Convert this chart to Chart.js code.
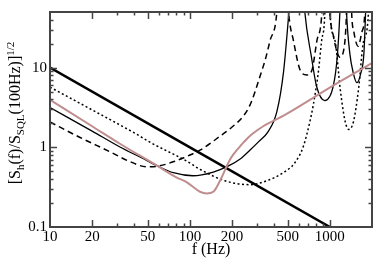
<!DOCTYPE html>
<html>
<head>
<meta charset="utf-8">
<script src="https://cdn.jsdelivr.net/npm/chart.js@4.4.1/dist/chart.umd.min.js"></script>
<style>
  html, body { margin: 0; padding: 0; background: #fff; }
  #wrap { width: 374px; height: 259px; }
</style>
</head>
<body>
<div id="wrap"><canvas id="chart"></canvas></div>
<script>
// Frequencies (Hz) and noise ratios.
// Values of 1000 mark resonance peaks far above the plot top.
const thickF = [10, 1000];
const thickS = [10, 0.1];

const thinF = [10, 20, 31.6, 45, 59, 76, 105, 147, 187, 230, 268, 310, 360, 418, 467, 510, 590, 662, 739, 803, 921, 1057, 1128, 1179, 1245, 1315, 1389, 1472, 1560, 1663, 1750, 1800, 1900];
const thinS = [3.16, 1.6, 1.01, 0.74, 0.58, 0.48, 0.44, 0.49, 0.58, 0.72, 0.92, 1.18, 1.55, 2.8, 9, 50, 1000, 50, 13.5, 5.85, 3.86, 5.85, 13.5, 50, 1000, 50, 15, 8.5, 6.5, 8.5, 15, 50, 1000];

const dashedF = [10, 16.4, 26.8, 36, 49, 59, 80, 100, 118, 164, 200, 240, 268, 292, 316, 345, 373, 418, 460, 507, 550, 614, 685, 744, 807, 877, 935, 1000, 1059, 1124, 1179, 1250, 1290, 1315, 1370, 1430, 1485, 1592, 1693, 1778, 1850];
const dashedS = [2.08, 1.33, 0.88, 0.68, 0.57, 0.58, 0.68, 0.8, 0.92, 1.38, 1.8, 2.45, 3.36, 5, 7.7, 12.5, 21.6, 50, 1000, 50, 21.6, 9.3, 8.1, 9.3, 21.6, 50, 1000, 50, 25, 16, 13.5, 16, 25, 50, 1000, 50, 28, 18.6, 28, 50, 1000];

const dottedF = [10, 20, 41.6, 51.8, 95, 118, 178, 268, 353, 464, 562, 644, 720, 760, 825, 872, 921, 960, 1000, 1091, 1186, 1286, 1361, 1476, 1602, 1740, 1888, 1950];
const dottedS = [5.7, 2.95, 1.46, 1.16, 0.67, 0.53, 0.38, 0.34, 0.38, 0.48, 0.64, 1.01, 2.11, 3.36, 8.5, 21.4, 50, 1000, 50, 21.4, 5.35, 2.11, 1.68, 2.11, 5.35, 21.4, 50, 1000];

const pinkF = [10, 20, 31.6, 59, 80, 94.6, 118, 132, 147, 164, 193, 205, 216, 228, 240, 260, 283, 334, 477, 1069, 2000];
const pinkS = [3.94, 1.84, 1.11, 0.58, 0.42, 0.366, 0.277, 0.264, 0.277, 0.38, 0.70, 0.82, 0.92, 1.03, 1.14, 1.32, 1.5, 1.84, 2.55, 6.03, 11.4];

// Tick values
const xLabelTicks = [10, 20, 50, 100, 200, 500, 1000];
const xMinorTicks = [30, 40, 60, 70, 80, 90, 300, 400, 600, 700, 800, 900, 2000];
const yLabelTicks = [0.1, 1, 10];
const yMinorTicks = [0.2, 0.3, 0.4, 0.5, 0.6, 0.7, 0.8, 0.9, 2, 3, 4, 5, 6, 7, 8, 9, 20, 30, 40, 50];

const serif = "'Liberation Serif', 'DejaVu Serif', serif";
Chart.defaults.font.family = serif;
Chart.defaults.color = "#000";

function toPoints(f, s) {
  return f.map((v, i) => ({ x: v, y: s[i] }));
}

// Inward tick marks on all four sides plus the frame
const frameTicks = {
  id: "frameTicks",
  afterDraw(chart) {
    const ctx = chart.ctx;
    const a = chart.chartArea;
    const xs = chart.scales.x;
    const ys = chart.scales.y;
    ctx.save();
    ctx.strokeStyle = "#444";
    ctx.lineWidth = 1.5;
    const tick = (x1, y1, x2, y2) => {
      ctx.beginPath();
      ctx.moveTo(x1, y1);
      ctx.lineTo(x2, y2);
      ctx.stroke();
    };
    const xTicks = xLabelTicks.map((v) => [v, 7]).concat(xMinorTicks.map((v) => [v, 3.5]));
    xTicks.forEach(([v, len]) => {
      const px = Math.round(xs.getPixelForValue(v)) + 0.5;
      if (px < a.left + 1 || px > a.right - 1) return;
      tick(px, a.bottom, px, a.bottom - len);
      tick(px, a.top, px, a.top + len);
    });
    const yTicks = yLabelTicks.map((v) => [v, 7]).concat(yMinorTicks.map((v) => [v, 3.5]));
    yTicks.forEach(([v, len]) => {
      const py = Math.round(ys.getPixelForValue(v)) + 0.5;
      if (py < a.top + 1 || py > a.bottom - 1) return;
      tick(a.left, py, a.left + len, py);
      tick(a.right, py, a.right - len, py);
    });
    ctx.lineWidth = 2;
    ctx.strokeRect(a.left, a.top, a.right - a.left, a.bottom - a.top);
    ctx.restore();
  },
};

// Rotated y title with sub/superscripts
const yTitleParts = [
  ["[S", 0],
  ["h", 1],
  ["(f)/S", 0],
  ["SQL", 1],
  ["(100Hz)]", 0],
  ["1/2", -1],
];
const yTitle = {
  id: "yTitle",
  afterDraw(chart) {
    const ctx = chart.ctx;
    ctx.save();
    ctx.fillStyle = "#000";
    ctx.textBaseline = "alphabetic";
    ctx.textAlign = "left";
    const fontFor = (k) => (k === 0 ? "16px " : "11px ") + serif;
    let total = 0;
    yTitleParts.forEach(([t, k]) => {
      ctx.font = fontFor(k);
      total += ctx.measureText(t).width;
    });
    ctx.translate(20, 113);
    ctx.rotate(-Math.PI / 2);
    let x = -total / 2;
    yTitleParts.forEach(([t, k]) => {
      ctx.font = fontFor(k);
      const dy = k === 1 ? 3.5 : k === -1 ? -6 : 0;
      ctx.fillText(t, x, dy);
      x += ctx.measureText(t).width;
    });
    ctx.restore();
  },
};

const lineBase = {
  pointRadius: 0,
  fill: false,
  cubicInterpolationMode: "monotone",
  clip: 0,
};

new Chart(document.getElementById("chart").getContext("2d"), {
  type: "line",
  data: {
    datasets: [
      Object.assign({}, lineBase, {
        label: "pink",
        data: toPoints(pinkF, pinkS),
        borderColor: "#bf8d8d",
        borderWidth: 2,
      }),
      Object.assign({}, lineBase, {
        label: "dotted",
        data: toPoints(dottedF, dottedS),
        borderColor: "#000",
        borderWidth: 1.5,
        borderDash: [2, 2.5],
      }),
      Object.assign({}, lineBase, {
        label: "dashed",
        data: toPoints(dashedF, dashedS),
        borderColor: "#000",
        borderWidth: 1.5,
        borderDash: [6, 4],
      }),
      Object.assign({}, lineBase, {
        label: "thin",
        data: toPoints(thinF, thinS),
        borderColor: "#000",
        borderWidth: 1.3,
      }),
      Object.assign({}, lineBase, {
        label: "thick",
        data: toPoints(thickF, thickS),
        borderColor: "#000",
        borderWidth: 2.5,
      }),
    ],
  },
  options: {
    responsive: true,
    maintainAspectRatio: false,
    animation: false,
    layout: { padding: { top: 2, right: 2, left: 0, bottom: 0 } },
    plugins: {
      legend: { display: false },
      tooltip: { enabled: false },
    },
    scales: {
      x: {
        type: "logarithmic",
        min: 10,
        max: 2000,
        grid: { display: false, drawTicks: false },
        border: { display: false },
        afterBuildTicks: (s) => {
          s.ticks = xLabelTicks.map((v) => ({ value: v }));
        },
        afterFit: (s) => {
          s.height = 32;
        },
        ticks: {
          autoSkip: false,
          maxRotation: 0,
          padding: 1,
          font: { size: 15 },
          callback: (v) => String(v),
        },
        title: {
          display: true,
          text: "f (Hz)",
          font: { size: 16 },
          padding: { top: 0, bottom: 0 },
        },
      },
      y: {
        type: "logarithmic",
        min: 0.1,
        max: 50,
        grid: { display: false, drawTicks: false },
        border: { display: false },
        afterBuildTicks: (s) => {
          s.ticks = yLabelTicks.map((v) => ({ value: v }));
        },
        afterFit: (s) => {
          s.width = 50;
        },
        ticks: {
          padding: 3,
          font: { size: 15 },
          callback: (v) => String(v),
        },
      },
    },
  },
  plugins: [frameTicks, yTitle],
});
</script>
</body>
</html>
